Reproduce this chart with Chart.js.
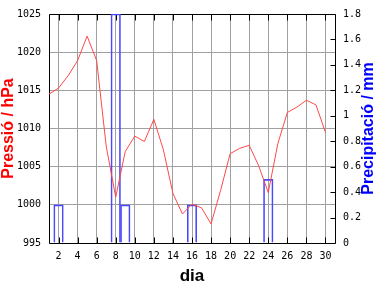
<!DOCTYPE html>
<html>
<head>
<meta charset="utf-8">
<script src="https://cdn.jsdelivr.net/npm/chart.js@4"></script>
<style>
  html, body { margin: 0; padding: 0; background: #fff; }
  canvas { display: block; }
</style>
</head>
<body>
<canvas id="grafica" width="384" height="288"></canvas>
<script>
const dies = [1, 2, 3, 4, 5, 6, 7, 8, 9, 10, 11, 12, 13, 14, 15, 16, 17, 18, 19, 20, 21, 22, 23, 24, 25, 26, 27, 28, 29, 30];
const pressio = [1014.5, 1015.3, 1016.9, 1018.9, 1022.1, 1018.9, 1007.7, 1001.0, 1007.0, 1009.0,
                 1008.3, 1011.2, 1007.2, 1001.5, 998.8, 1000.1, 999.6, 997.5, 1001.9, 1006.7,
                 1007.4, 1007.8, 1005.1, 1001.6, 1008.0, 1012.1, 1012.8, 1013.7, 1013.1, 1009.5];
const precipitacio = [0, 0.3, 0, 0, 0, 0, 0, 1.8, 0.3, 0,
                      0, 0, 0, 0, 0, 0.3, 0, 0, 0, 0,
                      0, 0, 0, 0.5, 0, 0, 0, 0, 0, 0];
const ticksDia = [2, 4, 6, 8, 10, 12, 14, 16, 18, 20, 22, 24, 26, 28, 30];

const fontTicks = { family: 'DejaVu Sans Mono', size: 10 };

// marc negre i marques cap a dins
const marc = {
  id: 'marc',
  beforeDatasetsDraw(chart) {
    const ctx = chart.ctx;
    const a = chart.chartArea;
    const x = chart.scales.x;
    const y1 = chart.scales.y1;
    const l = Math.round(a.left) + 0.5, r = Math.round(a.right) + 0.5;
    const t = Math.round(a.top) + 0.5, b = Math.round(a.bottom) + 0.5;
    ctx.save();
    ctx.strokeStyle = '#000';
    ctx.lineWidth = 1;
    ctx.beginPath();
    ctx.rect(l, t, r - l, b - t);
    ticksDia.forEach(function(d) {
      const px = Math.round(x.getPixelForValue(d)) + 0.5;
      ctx.moveTo(px, t); ctx.lineTo(px, t + 6);
      ctx.moveTo(px, b); ctx.lineTo(px, b - 6);
    });
    y1.ticks.forEach(function(tk) {
      const py = Math.round(y1.getPixelForValue(tk.value)) + 0.5;
      ctx.moveTo(r, py); ctx.lineTo(r - 5, py);
    });
    ctx.stroke();
    ctx.restore();
  },
  afterDraw(chart) {
    const ctx = chart.ctx;
    const a = chart.chartArea;
    ctx.save();
    ctx.translate(369, (a.top + a.bottom) / 2);
    ctx.rotate(-Math.PI / 2);
    ctx.font = 'bold 16px "Liberation Sans"';
    ctx.fillStyle = '#0000ff';
    ctx.textAlign = 'center';
    ctx.textBaseline = 'middle';
    ctx.fillText('Precipitació / mm', 0, 0);
    ctx.restore();
  }
};

new Chart(document.getElementById('grafica'), {
  type: 'line',
  data: {
    datasets: [{
      type: 'line',
      label: 'Pressió',
      data: dies.map(function(d, i) { return { x: d, y: pressio[i] }; }),
      borderColor: '#ff4848',
      borderWidth: 1,
      pointRadius: 0,
      tension: 0,
      yAxisID: 'y'
    }, {
      type: 'bar',
      label: 'Precipitació',
      data: dies.map(function(d, i) { return { x: d, y: precipitacio[i] }; }),
      borderColor: '#4848ff',
      backgroundColor: 'rgba(0,0,0,0)',
      borderWidth: 1,
      barPercentage: 1,
      categoryPercentage: 1,
      yAxisID: 'y1'
    }]
  },
  options: {
    responsive: false,
    animation: false,
    devicePixelRatio: 1,
    layout: { padding: { top: 13, left: 0, right: 0, bottom: 0 } },
    plugins: { legend: { display: false }, tooltip: { enabled: false } },
    scales: {
      x: {
        type: 'linear',
        min: 1,
        max: 31,
        offset: false,
        afterBuildTicks: function(s) { s.ticks = ticksDia.map(function(v) { return { value: v }; }); },
        afterFit: function(s) { s.height = 45; },
        grid: { color: '#a0a0a0', drawTicks: false, offset: false },
        border: { display: false },
        ticks: { font: fontTicks, color: '#000', padding: 7, maxRotation: 0, autoSkip: false },
        title: { display: true, text: 'dia', color: '#000', font: { family: 'Liberation Sans', size: 17, weight: 'bold', lineHeight: 1 }, padding: { top: 0, bottom: 3.5 } }
      },
      y: {
        position: 'left',
        min: 995,
        max: 1025,
        afterFit: function(s) { s.width = 49; },
        grid: { color: '#a0a0a0', drawTicks: false },
        border: { display: false },
        ticks: {
          stepSize: 5, font: fontTicks, color: '#000', padding: 8,
          callback: function(v) { return String(v); }
        },
        title: { display: true, text: 'Pressió / hPa', color: '#ff0000', font: { family: 'Liberation Sans', size: 16, weight: 'bold', lineHeight: 1 }, padding: { top: 0.5, bottom: 0 } }
      },
      y1: {
        position: 'right',
        min: 0,
        max: 1.8,
        afterFit: function(s) { s.width = 49; },
        grid: { drawOnChartArea: false, drawTicks: false },
        border: { display: false },
        ticks: {
          stepSize: 0.2, font: fontTicks, color: '#000', padding: 8,
          callback: function(v) { return String(Math.round(v * 10) / 10); }
        }
      }
    }
  },
  plugins: [marc]
});
</script>
</body>
</html>
